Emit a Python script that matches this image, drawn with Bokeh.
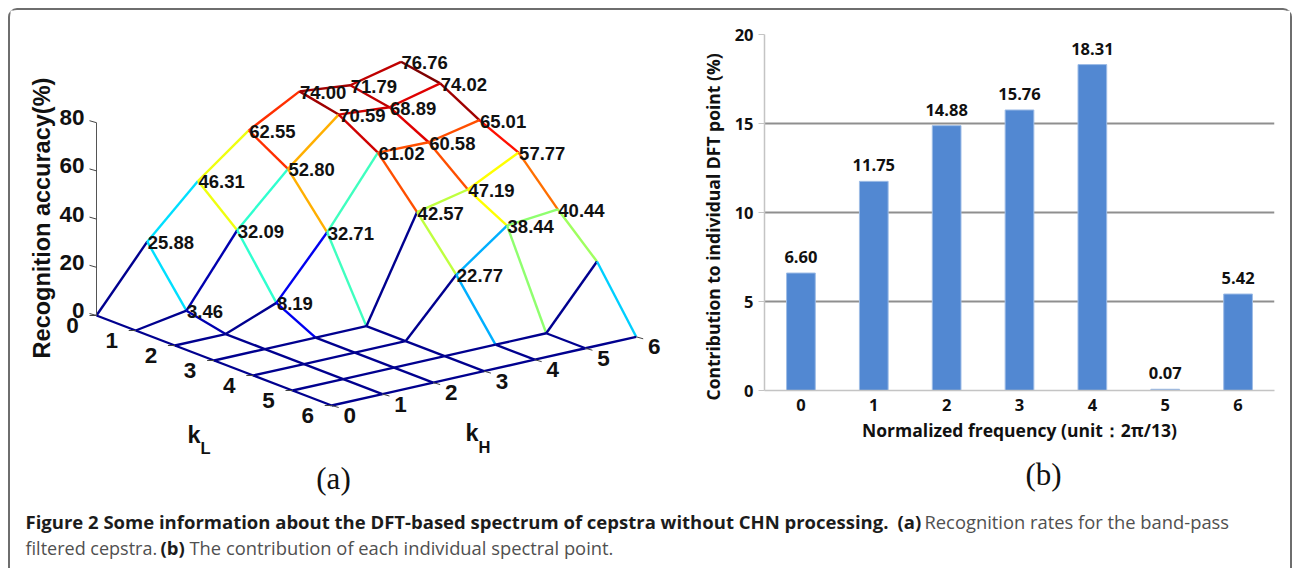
from math import pi
from bokeh.plotting import figure
from bokeh.layouts import column, row
from bokeh.models import Range1d, ColumnDataSource, LinearColorMapper, Title, FixedTicker
from bokeh.core.properties import value
from bokeh.embed import file_html
from bokeh.resources import INLINE

# ---------- data: panel (a), rows are kL = 0..6, columns kH = 0..6
kl_row0 = [0, 25.88, 46.31, 62.55, 74.00, 71.79, 76.76]
kl_row1 = [0, 3.46, 32.09, 52.80, 70.59, 68.89, 74.02]
kl_row2 = [0, 0, 8.19, 32.71, 61.02, 60.58, 65.01]
kl_row3 = [0, 0, 0, 0, 42.57, 47.19, 57.77]
kl_row4 = [0, 0, 0, 0, 22.77, 38.44, 40.44]
kl_row5 = [0, 0, 0, 0, 0, 0, 25.0]
kl_row6 = [0, 0, 0, 0, 0, 0, 0]
accuracy = [kl_row0, kl_row1, kl_row2, kl_row3, kl_row4, kl_row5, kl_row6]
unlabelled = {(5, 6)}
k_ticks = [0, 1, 2, 3, 4, 5, 6]
z_ticks = [0, 20, 40, 60, 80]

# ---------- data: panel (b)
freq_points = [0, 1, 2, 3, 4, 5, 6]
contribution = [6.60, 11.75, 14.88, 15.76, 18.31, 0.07, 5.42]
contribution_labels = ["6.60", "11.75", "14.88", "15.76", "18.31", "0.07", "5.42"]
y_ticks = [0, 5, 10, 15, 20]

AR = "Liberation Sans"
SANS = "Open Sans"
CAP = "Open Sans"

# view projection used for the pseudo-3D panel
def proj(kl, kh, z=0.0):
    return (96 + 39.2 * kl + 50.75 * kh, 315 + 15.0 * kl - 11.45 * kh - 2.41 * z)

def jet(n=64):
    out = []
    for i in range(n):
        t = (i + 1) / n
        r = min(max(min(4 * t - 1.5, -4 * t + 4.5), 0), 1)
        g = min(max(min(4 * t - 0.5, -4 * t + 3.5), 0), 1)
        b = min(max(min(4 * t + 0.5, -4 * t + 2.5), 0), 1)
        out.append("#%02x%02x%02x" % (int(r * 255), int(g * 255), int(b * 255)))
    return out

# ---------- panel (a)
W_A, H_TOP = 680, 488
pa = figure(width=W_A, height=H_TOP, x_range=Range1d(10, 10 + W_A), y_range=Range1d(10 + H_TOP, 10),
            output_backend="svg", toolbar_location=None, min_border=0, outline_line_color=None)
pa.axis.visible = False
pa.grid.visible = False

x0, y0, x1, y1, cv = [], [], [], [], []
for i in range(7):
    for j in range(7):
        a = proj(i, j, accuracy[i][j])
        if i < 6:
            b = proj(i + 1, j, accuracy[i + 1][j])
            x0.append(a[0]); y0.append(a[1]); x1.append(b[0]); y1.append(b[1]); cv.append(accuracy[i][j])
        if j < 6:
            b = proj(i, j + 1, accuracy[i][j + 1])
            x0.append(a[0]); y0.append(a[1]); x1.append(b[0]); y1.append(b[1]); cv.append(accuracy[i][j])
mapper = LinearColorMapper(palette=jet(), low=0, high=76.76)
pa.segment("x0", "y0", "x1", "y1", source=ColumnDataSource(dict(x0=x0, y0=y0, x1=x1, y1=y1, c=cv)),
           line_color={"field": "c", "transform": mapper}, line_width=2.4)

# z axis
zb, zt = proj(0, 0, 0), proj(0, 0, 80)
pa.segment([zb[0]], [zb[1]], [zt[0]], [zt[1]], line_color="#555555", line_width=1)
ax = [proj(0, 0, z)[0] for z in z_ticks]
ay = [proj(0, 0, z)[1] for z in z_ticks]
pa.segment(ax, ay, [v - 7 for v in ax], [v - 2 for v in ay], line_color="#444444", line_width=1)
pa.text(ax, ay, text=[str(z) for z in z_ticks], text_font=value(AR), text_font_style="bold",
        text_font_size="22.5px", text_color="#111111", text_align="right", text_baseline="middle",
        x_offset=-12, y_offset=-5)

# kL and kH ticks
lx = [proj(k, 0)[0] for k in k_ticks]
ly = [proj(k, 0)[1] for k in k_ticks]
pa.segment(lx, ly, [v - 7 for v in lx], ly, line_color="#444444", line_width=1)
pa.text(lx, ly, text=[str(k) for k in k_ticks], text_font=value(AR), text_font_style="bold",
        text_font_size="22.5px", text_color="#111111", text_align="center", text_baseline="middle",
        x_offset=-24, y_offset=10)
hx = [proj(6, k)[0] for k in k_ticks]
hy = [proj(6, k)[1] for k in k_ticks]
pa.segment(hx, hy, [v + 7 for v in hx], [v + 2 for v in hy], line_color="#444444", line_width=1)
pa.text(hx, hy, text=[str(k) for k in k_ticks], text_font=value(AR), text_font_style="bold",
        text_font_size="22.5px", text_color="#111111", text_align="center", text_baseline="middle",
        x_offset=18, y_offset=10)

# value labels
tx, ty, tt = [], [], []
for i in range(7):
    for j in range(7):
        if accuracy[i][j] > 0 and (i, j) not in unlabelled:
            q = proj(i, j, accuracy[i][j])
            tx.append(q[0]); ty.append(q[1]); tt.append("%.2f" % accuracy[i][j])
pa.text(tx, ty, text=tt, text_font=value(AR), text_font_style="bold", text_font_size="18.5px",
        text_color="#111111", text_align="left", text_baseline="middle", x_offset=0.5, y_offset=1)

def lab(fig, x, y, t, font, size, style="bold", color="#111111", align="left", angle=0.0):
    fig.text([x], [y], text=[t], text_font=value(font), text_font_style=style, text_font_size=size,
             text_color=color, text_align=align, text_baseline="middle", angle=angle)

lab(pa, 41, 217.5, "Recognition accuracy(%)", AR, "23.5px", align="center", angle=pi / 2)
lab(pa, 187, 434, "k", AR, "23.5px")
lab(pa, 200, 447.5, "L", AR, "16.5px")
lab(pa, 465, 432, "k", AR, "23.5px")
lab(pa, 478, 446.5, "H", AR, "16.5px")
lab(pa, 333, 478, "(a)", "Liberation Serif", "31px", style="normal", align="center")

# ---------- panel (b)
W_B = 600
pb = figure(width=W_B, height=H_TOP + 5, x_range=Range1d(-0.5, 6.5), y_range=Range1d(0, 20),
            output_backend="svg", toolbar_location=None, outline_line_color=None,
            min_border_left=74, min_border_right=16, min_border_top=24, min_border_bottom=113,
            margin=(0, 0, -5, 0),
            x_axis_label="Normalized frequency (unit\uff1a2\u03c0/13)")
pb.xgrid.visible = False
pb.ygrid.ticker = FixedTicker(ticks=y_ticks)
pb.ygrid.grid_line_color = "#8f8f8f"
pb.ygrid.grid_line_width = 2
pb.vbar(x=freq_points, top=contribution, width=0.394, bottom=0, fill_color="#5288d2",
        line_color="#9dbce6", line_width=1)
pb.text(freq_points, contribution, text=contribution_labels, text_font=value(SANS), text_font_style="bold",
        text_font_size="16.5px", text_color="#111111", text_align="center", text_baseline="middle", y_offset=-16)
pb.xaxis.ticker = FixedTicker(ticks=freq_points)
pb.yaxis.ticker = FixedTicker(ticks=y_ticks)
for ax_ in (pb.xaxis[0], pb.yaxis[0]):
    ax_.axis_line_color = "#c4c4c4"
    ax_.axis_line_width = 1.5
    ax_.major_label_text_font = SANS
    ax_.major_label_text_font_style = "bold"
    ax_.major_label_text_font_size = "16.5px"
    ax_.major_label_text_color = "#111111"
    ax_.axis_label_text_font = SANS
    ax_.axis_label_text_font_style = "bold"
    ax_.axis_label_text_font_size = "17.5px"
    ax_.axis_label_text_color = "#111111"
    ax_.minor_tick_line_color = None
pb.xaxis.major_tick_line_color = None
pb.yaxis.major_tick_line_color = "#c4c4c4"
pb.yaxis.major_tick_out = 6
pb.yaxis.major_tick_in = 0
pb.yaxis.major_label_standoff = 5
pb.xaxis.major_label_standoff = 2
pb.xaxis.axis_label_standoff = 4
pb.add_layout(Title(text="Contribution to individual DFT point (%)", align="left", offset=-10, standoff=14,
                    text_font=SANS, text_font_style="bold", text_font_size="17.5px", text_color="#111111"), "left")
pb.add_layout(Title(text="(b)", align="left", offset=261, standoff=21, text_font="Liberation Serif",
                    text_font_style="normal", text_font_size="31px", text_color="#111111"), "below")

# ---------- caption
H_CAP = 70
pc = figure(width=W_A + W_B, height=H_CAP, x_range=Range1d(10, 10 + W_A + W_B),
            y_range=Range1d(10 + H_TOP + H_CAP, 10 + H_TOP),
            output_backend="svg", toolbar_location=None, min_border=0, outline_line_color=None)
pc.axis.visible = False
pc.grid.visible = False
lab(pc, 25, 521, "Figure 2 Some information about the DFT-based spectrum of cepstra without CHN processing.",
    CAP, "18.5px", color="#1c1c1c")
lab(pc, 897, 521, "(a)", CAP, "18.5px", color="#1c1c1c")
lab(pc, 924, 521, "Recognition rates for the band-pass", CAP, "18.35px", style="normal", color="#505050")
lab(pc, 25, 547, "filtered cepstra.", CAP, "18px", style="normal", color="#505050")
lab(pc, 160, 547, "(b)", CAP, "18.5px", color="#1c1c1c")
lab(pc, 189, 547, "The contribution of each individual spectral point.", CAP, "18.35px", style="normal", color="#505050")

page = column(row(pa, column(pb), spacing=0), pc, spacing=0, margin=(8, 0, 0, 8),
              styles={"border-left": "2px solid #6e6e6e", "border-top": "2px solid #6e6e6e",
                      "border-right": "2px solid #6e6e6e", "border-top-left-radius": "9px",
                      "border-top-right-radius": "9px"})
open("out.html", "w").write(file_html(page, INLINE))
